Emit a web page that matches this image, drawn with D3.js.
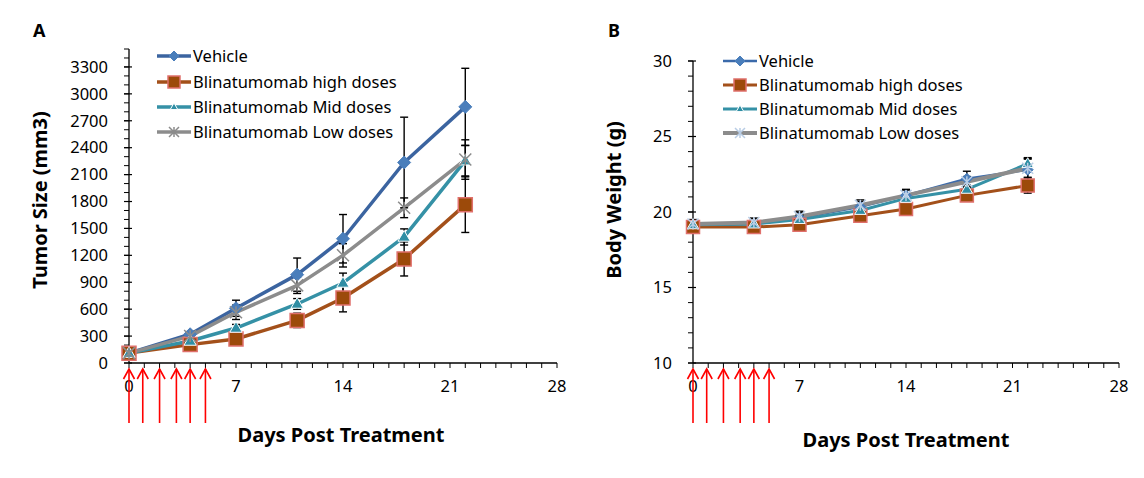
<!DOCTYPE html>
<html>
<head>
<meta charset="utf-8">
<script src="https://cdn.jsdelivr.net/npm/d3@7"></script>
<style>
  body { margin: 0; background: #fff; }
  text { font-family: "Noto Sans", sans-serif; fill: #000; }
</style>
</head>
<body>
<div id="chart"></div>
<script>
// days on which tumour volume / body weight were measured
var days = [0, 4, 7, 11, 14, 18, 22];
// dosing days (red arrows under the x axis)
var doseDays = [0, 0.9, 2, 3.1, 4, 5];

var seriesNames = ["Vehicle", "Blinatumomab high doses", "Blinatumomab Mid doses", "Blinatumomab Low doses"];

// panel A - tumour size (mm3)
var tumorVehicle = [110, 320, 610, 985, 1385, 2235, 2855];
var tumorHigh    = [110, 205, 268, 475, 725, 1160, 1765];
var tumorMid     = [110, 245, 390, 658, 892, 1405, 2255];
var tumorLow     = [110, 300, 565, 865, 1200, 1730, 2268];
var tumorVehicleErr = [15, 30, 90, 185, 270, 505, 430];
var tumorHighErr    = [15, 25, 30, 80, 155, 190, 310];
var tumorMidErr     = [15, 25, 40, 60, 110, 90, 170];
var tumorLowErr     = [15, 30, 80, 90, 130, 110, 220];
var tumorTicks = [0, 300, 600, 900, 1200, 1500, 1800, 2100, 2400, 2700, 3000, 3300];

// panel B - body weight (g)
var weightVehicle = [19.1, 19.2, 19.6, 20.35, 21.1, 22.2, 22.8];
var weightHigh    = [19.0, 19.0, 19.15, 19.75, 20.2, 21.1, 21.75];
var weightMid     = [19.15, 19.2, 19.5, 20.1, 20.9, 21.5, 23.2];
var weightLow     = [19.2, 19.3, 19.7, 20.45, 21.1, 22.0, 22.9];
var weightVehicleErr = [0.3, 0.35, 0.35, 0.35, 0.4, 0.5, 0.75];
var weightHighErr    = [0.25, 0.25, 0.3, 0.3, 0.3, 0.3, 0.5];
var weightMidErr     = [0.25, 0.3, 0.3, 0.3, 0.3, 0.3, 0.4];
var weightLowErr     = [0.3, 0.3, 0.35, 0.35, 0.35, 0.35, 0.6];
var weightTicks = [10, 15, 20, 25, 30];

var xTicks = [0, 7, 14, 21, 28];

var svg = d3.select("#chart").append("svg").attr("width", 1144).attr("height", 478);

// marker shapes, centred on 0,0
function markerPath(kind, r) {
    if (kind == "diamond") return "M0," + (-r) + "L" + r + ",0L0," + r + "L" + (-r) + ",0Z";
    if (kind == "square") return "M" + (-r) + "," + (-r) + "h" + 2 * r + "v" + 2 * r + "h" + (-2 * r) + "Z";
    if (kind == "triangle") return "M0," + (-r) + "L" + r * 0.95 + "," + r * 0.65 + "L" + (-r * 0.95) + "," + r * 0.65 + "Z";
    // asterisk
    return "M" + (-r) + "," + (-r) + "L" + r + "," + r + "M" + (-r) + "," + r + "L" + r + "," + (-r) + "M0," + (-r) + "L0," + r;
}

function drawPanel(p) {
    var x = d3.scaleLinear().domain([0, 28]).range([p.left, p.right]);
    var y = d3.scaleLinear().domain(p.yDomain).range([p.bottom, p.top]);
    var g = svg.append("g");

    // panel letter
    g.append("text").attr("x", p.letterX).attr("y", 37)
        .style("font-size", "18px").style("font-weight", "bold").text(p.letter);

    // y axis line + ticks
    g.append("line").attr("x1", p.left).attr("x2", p.left)
        .attr("y1", y(p.yDomain[0])).attr("y2", y(p.yDomain[1]))
        .attr("stroke", "#000").attr("stroke-width", 1.3);
    g.selectAll(".yminor").data(d3.range(p.yDomain[0], p.yDomain[1] + 0.001, p.yMinor))
        .enter().append("line")
        .attr("x1", p.left - 5).attr("x2", p.left)
        .attr("y1", d => y(d)).attr("y2", d => y(d))
        .attr("stroke", "#000").attr("stroke-width", 1);
    g.selectAll(".ymajor").data(p.yTicks).enter().append("line")
        .attr("x1", p.left - 5).attr("x2", p.left + 3)
        .attr("y1", d => y(d)).attr("y2", d => y(d))
        .attr("stroke", "#000").attr("stroke-width", 1.2);
    g.selectAll(".ylab").data(p.yTicks).enter().append("text")
        .attr("x", p.left - 21).attr("y", d => y(d)).attr("dy", "0.35em")
        .attr("text-anchor", "end").style("font-size", "16.5px").text(d => d);

    // x axis line + ticks
    g.append("line").attr("x1", p.left).attr("x2", p.right)
        .attr("y1", p.bottom).attr("y2", p.bottom)
        .attr("stroke", "#000").attr("stroke-width", 1.3);
    g.selectAll(".xminor").data(d3.range(0, 29)).enter().append("line")
        .attr("x1", d => x(d)).attr("x2", d => x(d))
        .attr("y1", p.bottom).attr("y2", p.bottom + 5)
        .attr("stroke", "#000").attr("stroke-width", 1);
    g.selectAll(".xlab").data(xTicks).enter().append("text")
        .attr("x", d => x(d)).attr("y", p.bottom + 23).attr("dy", "0.35em")
        .attr("text-anchor", "middle").style("font-size", "16.5px").text(d => d);

    // axis titles
    g.append("text").attr("x", p.xTitleX).attr("y", p.xTitleY).attr("dy", "0.35em")
        .attr("text-anchor", "middle").style("font-size", "20px").style("font-weight", "bold")
        .text("Days Post Treatment");
    g.append("text").attr("transform", "translate(" + p.yTitleX + "," + 200 + ") rotate(-90)")
        .attr("dy", "0.35em").attr("text-anchor", "middle")
        .style("font-size", "20px").style("font-weight", "bold").text(p.yTitle);

    // dosing arrows
    var arrows = g.selectAll(".dose").data(doseDays).enter().append("g")
        .attr("transform", d => "translate(" + x(d) + "," + (p.bottom + 6) + ")");
    arrows.append("line").attr("x1", 0).attr("x2", 0).attr("y1", 0).attr("y2", 54)
        .attr("stroke", "#ff0000").attr("stroke-width", 1.6);
    arrows.append("path").attr("d", "M-5.5,10L0,0L5.5,10")
        .attr("fill", "none").attr("stroke", "#ff0000").attr("stroke-width", 1.6);

    var line = d3.line().x((d, i) => x(days[i])).y(d => y(d));

    p.series.forEach(function(s) {
        g.append("path").datum(s.values).attr("d", line)
            .attr("fill", "none").attr("stroke", s.color).attr("stroke-width", s.width)
            .attr("stroke-linejoin", "round");
    });

    // error bars
    p.series.forEach(function(s) {
        var eb = g.selectAll(null).data(s.values).enter().append("g");
        eb.append("line")
            .attr("x1", (d, i) => x(days[i])).attr("x2", (d, i) => x(days[i]))
            .attr("y1", (d, i) => y(d - s.err[i])).attr("y2", (d, i) => y(d + s.err[i]))
            .attr("stroke", "#000").attr("stroke-width", 1.4);
        [-1, 1].forEach(function(sign) {
            eb.append("line")
                .attr("x1", (d, i) => x(days[i]) - 4).attr("x2", (d, i) => x(days[i]) + 4)
                .attr("y1", (d, i) => y(d + sign * s.err[i])).attr("y2", (d, i) => y(d + sign * s.err[i]))
                .attr("stroke", "#000").attr("stroke-width", 1.4);
        });
    });

    // markers
    p.series.forEach(function(s) {
        g.selectAll(null).data(s.values).enter().append("path")
            .attr("transform", (d, i) => "translate(" + x(days[i]) + "," + y(d) + ")")
            .attr("d", markerPath(s.marker, s.size))
            .attr("fill", s.marker == "asterisk" ? "none" : s.fill)
            .attr("stroke", s.stroke).attr("stroke-width", s.strokeWidth);
    });

    // legend
    var leg = g.selectAll(".leg").data(p.series).enter().append("g")
        .attr("transform", (d, i) => "translate(" + p.legendX + "," + p.legendRows[i] + ")");
    leg.append("line").attr("x1", 0).attr("x2", 34).attr("y1", 0).attr("y2", 0)
        .attr("stroke", d => d.color).attr("stroke-width", d => d.width);
    leg.append("path").attr("transform", "translate(17,0)")
        .attr("d", d => markerPath(d.marker, d.legendSize))
        .attr("fill", d => d.marker == "asterisk" ? "none" : d.fill)
        .attr("stroke", d => d.stroke).attr("stroke-width", d => d.strokeWidth);
    leg.append("text").attr("x", 36).attr("dy", "0.35em")
        .style("font-size", "16.5px").text((d, i) => seriesNames[i]);
}

drawPanel({
    letter: "A", letterX: 33,
    left: 129, right: 557, top: 49, bottom: 363,
    yDomain: [0, 3500], yMinor: 100, yTicks: tumorTicks,
    yTitle: "Tumor Size (mm3)", yTitleX: 40, xTitleX: 341, xTitleY: 435,
    legendX: 157, legendRows: [56, 82, 107, 132],
    series: [
        { values: tumorVehicle, err: tumorVehicleErr, color: "#3b64a0", width: 3.5, marker: "diamond", size: 6.5, legendSize: 5, fill: "#4a7ebb", stroke: "#4a7ebb", strokeWidth: 1 },
        { values: tumorHigh, err: tumorHighErr, color: "#a3501a", width: 3.5, marker: "square", size: 7, legendSize: 6, fill: "#9c4a0a", stroke: "#e0706c", strokeWidth: 1.5 },
        { values: tumorMid, err: tumorMidErr, color: "#3591a6", width: 3.5, marker: "triangle", size: 6.5, legendSize: 4, fill: "#2f8ea4", stroke: "#ffffff", strokeWidth: 1 },
        { values: tumorLow, err: tumorLowErr, color: "#8c8c8c", width: 3.5, marker: "asterisk", size: 6, legendSize: 5, fill: "none", stroke: "#8c8c8c", strokeWidth: 1.5 }
    ]
});

drawPanel({
    letter: "B", letterX: 608,
    left: 693, right: 1119, top: 61, bottom: 363,
    yDomain: [10, 30], yMinor: 1, yTicks: weightTicks,
    yTitle: "Body Weight (g)", yTitleX: 614, xTitleX: 906, xTitleY: 440,
    legendX: 723, legendRows: [61, 85, 109, 133],
    series: [
        { values: weightVehicle, err: weightVehicleErr, color: "#3b6aaa", width: 2.5, marker: "diamond", size: 5.5, legendSize: 5, fill: "#4a7ebb", stroke: "#4a7ebb", strokeWidth: 1 },
        { values: weightHigh, err: weightHighErr, color: "#a3501a", width: 3, marker: "square", size: 6.5, legendSize: 6, fill: "#9c4a0a", stroke: "#e0706c", strokeWidth: 1.5 },
        { values: weightMid, err: weightMidErr, color: "#3591a6", width: 3, marker: "triangle", size: 6, legendSize: 4, fill: "#2f8ea4", stroke: "#ffffff", strokeWidth: 1 },
        { values: weightLow, err: weightLowErr, color: "#8c8c8c", width: 4, marker: "asterisk", size: 5.5, legendSize: 5, fill: "none", stroke: "#b9cde5", strokeWidth: 1.5 }
    ]
});
</script>
</body>
</html>
